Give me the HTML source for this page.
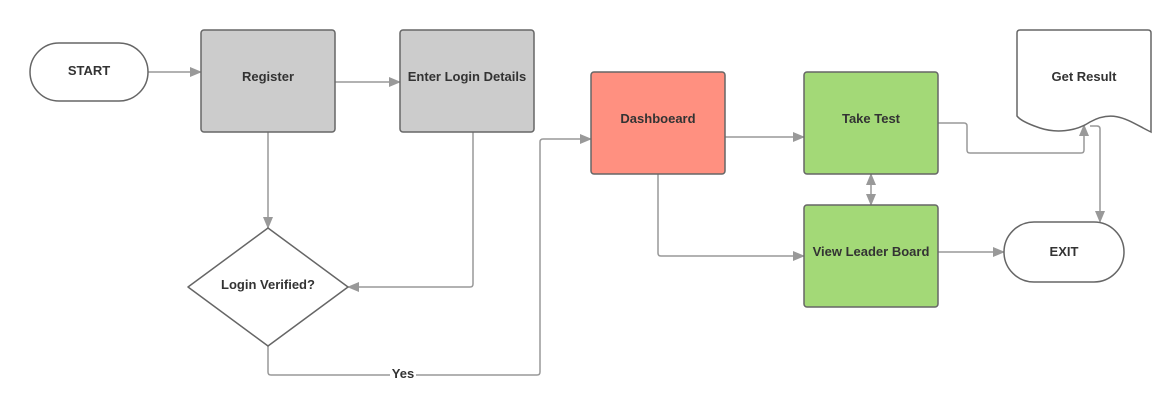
<!DOCTYPE html>
<html><head><meta charset="utf-8"><style>
html,body{margin:0;padding:0;background:#fff;}
svg{display:block;}
text{font-family:"Liberation Sans",sans-serif;font-weight:bold;font-size:13px;fill:#333;text-anchor:middle;}
</style></head><body>
<svg width="1168" height="414" viewBox="0 0 1168 414" xmlns="http://www.w3.org/2000/svg">
<defs>
<marker id="a" markerWidth="12" markerHeight="10" refX="11" refY="5" orient="auto" markerUnits="userSpaceOnUse">
<path d="M0,0 L12,5 L0,10 Z" fill="#999"/></marker>
<marker id="s" markerWidth="12" markerHeight="10" refX="1" refY="5" orient="auto" markerUnits="userSpaceOnUse">
<path d="M12,0 L0,5 L12,10 Z" fill="#999"/></marker>
</defs>
<g fill="none" stroke="#999" stroke-width="1.5">
<path d="M148,72 H201" marker-end="url(#a)"/>
<path d="M335,82 H400" marker-end="url(#a)"/>
<path d="M268,132 V228" marker-end="url(#a)"/>
<path d="M473,132 V284 Q473,287 470,287 H348" marker-end="url(#a)"/>
<path d="M268,346 V372 Q268,375 271,375 H537 Q540,375 540,372 V142 Q540,139 543,139 H591" marker-end="url(#a)"/>
<path d="M725,137 H804" marker-end="url(#a)"/>
<path d="M658,174 V253 Q658,256 661,256 H804" marker-end="url(#a)"/>
<path d="M871,174 V205" marker-start="url(#s)" marker-end="url(#a)"/>
<path d="M938,123 H964 Q967,123 967,126 V150 Q967,153 970,153 H1081 Q1084,153 1084,150 V125" marker-end="url(#a)"/>
<path d="M1090,126 H1097 Q1100,126 1100,129 V222" marker-end="url(#a)"/>
<path d="M938,252 H1004" marker-end="url(#a)"/>
</g>
<g stroke="#666" stroke-width="1.5">
<rect x="30" y="43" width="118" height="58" rx="29" fill="#fff"/>
<rect x="201" y="30" width="134" height="102" rx="3" fill="#cccccc"/>
<rect x="400" y="30" width="134" height="102" rx="3" fill="#cccccc"/>
<rect x="591" y="72" width="134" height="102" rx="3" fill="#ff9080"/>
<rect x="804" y="72" width="134" height="102" rx="3" fill="#a3d977"/>
<rect x="804" y="205" width="134" height="102" rx="3" fill="#a3d977"/>
<rect x="1004" y="222" width="120" height="60" rx="30" fill="#fff"/>
<path d="M188,287 L268,228 L348,287 L268,346 Z" fill="#fff" stroke-linejoin="round"/>
<path d="M1017,33 Q1017,30 1020,30 H1148 Q1151,30 1151,33 V132 C1130,122 1115,108 1090,122 C1075,132 1055,133 1040,128 C1028,124 1020,120 1017,116 Z" fill="#fff"/>
</g>
<text x="89" y="75">START</text>
<text x="268" y="81">Register</text>
<text x="467" y="81">Enter Login Details</text>
<text x="658" y="123">Dashboeard</text>
<text x="871" y="123">Take Test</text>
<text x="871" y="256">View Leader Board</text>
<text x="1064" y="256">EXIT</text>
<text x="1084" y="81">Get Result</text>
<text x="268" y="289">Login Verified?</text>
<rect x="390" y="366" width="26" height="16" fill="#fff"/>
<text x="403" y="378">Yes</text>
</svg>
</body></html>
